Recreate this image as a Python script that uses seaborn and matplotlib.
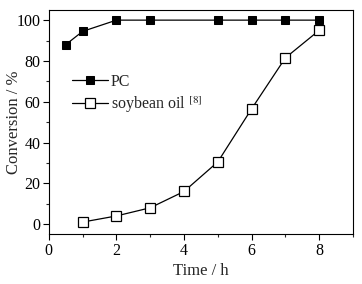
import matplotlib
matplotlib.use("Agg")
import matplotlib.pyplot as plt
import seaborn as sns
import pandas as pd
from matplotlib.ticker import MultipleLocator

# data
pc_time = [0.5, 1, 2, 3, 5, 6, 7, 8]
pc_conv = [88, 94.5, 100, 100, 100, 100, 100, 100]
soy_time = [1, 2, 3, 4, 5, 6, 7, 8]
soy_conv = [1, 4, 8, 16, 30.5, 56.5, 81.5, 95]

sns.set_style("ticks")
plt.rcParams['font.family'] = ['Liberation Serif', 'DejaVu Serif']
plt.rcParams['mathtext.fontset'] = 'stix'

fig, ax = plt.subplots(figsize=(3.62, 2.84), dpi=100)

pc = pd.DataFrame({"t": pc_time, "c": pc_conv})
soy = pd.DataFrame({"t": soy_time, "c": soy_conv})

sns.lineplot(data=pc, x="t", y="c", ax=ax, color="black", lw=0.9,
             marker="s", markersize=6, markerfacecolor="black",
             markeredgecolor="black", label="PC")
sns.lineplot(data=soy, x="t", y="c", ax=ax, color="black", lw=0.9,
             marker="s", markersize=6.5, markerfacecolor="white",
             markeredgecolor="black", markeredgewidth=0.9,
             label="soybean oil $^{[8]}$")

ax.set_xlim(0, 9)
ax.set_ylim(-5, 105)
ax.xaxis.set_major_locator(MultipleLocator(2))
ax.xaxis.set_minor_locator(MultipleLocator(1))
ax.yaxis.set_major_locator(MultipleLocator(20))
ax.yaxis.set_minor_locator(MultipleLocator(10))
ax.tick_params(which="major", length=4, width=0.8, labelsize=11.5, colors="black", pad=2)
ax.tick_params(which="minor", length=2.5, width=0.8)
for s in ax.spines.values():
    s.set_linewidth(0.8)
    s.set_color("black")

ax.set_xlabel("Time / h", fontsize=12, labelpad=3)
ax.set_ylabel("Conversion / %", fontsize=12)
ax.yaxis.set_label_coords(-0.09, 0.5)

ax.legend(loc="upper left", bbox_to_anchor=(0.03, 0.78), frameon=False,
          fontsize=11.5, handlelength=2.2, handletextpad=0.2, labelspacing=0.3)

fig.subplots_adjust(left=0.135, right=0.975, top=0.965, bottom=0.175)
fig.savefig("out.png", dpi=100)
